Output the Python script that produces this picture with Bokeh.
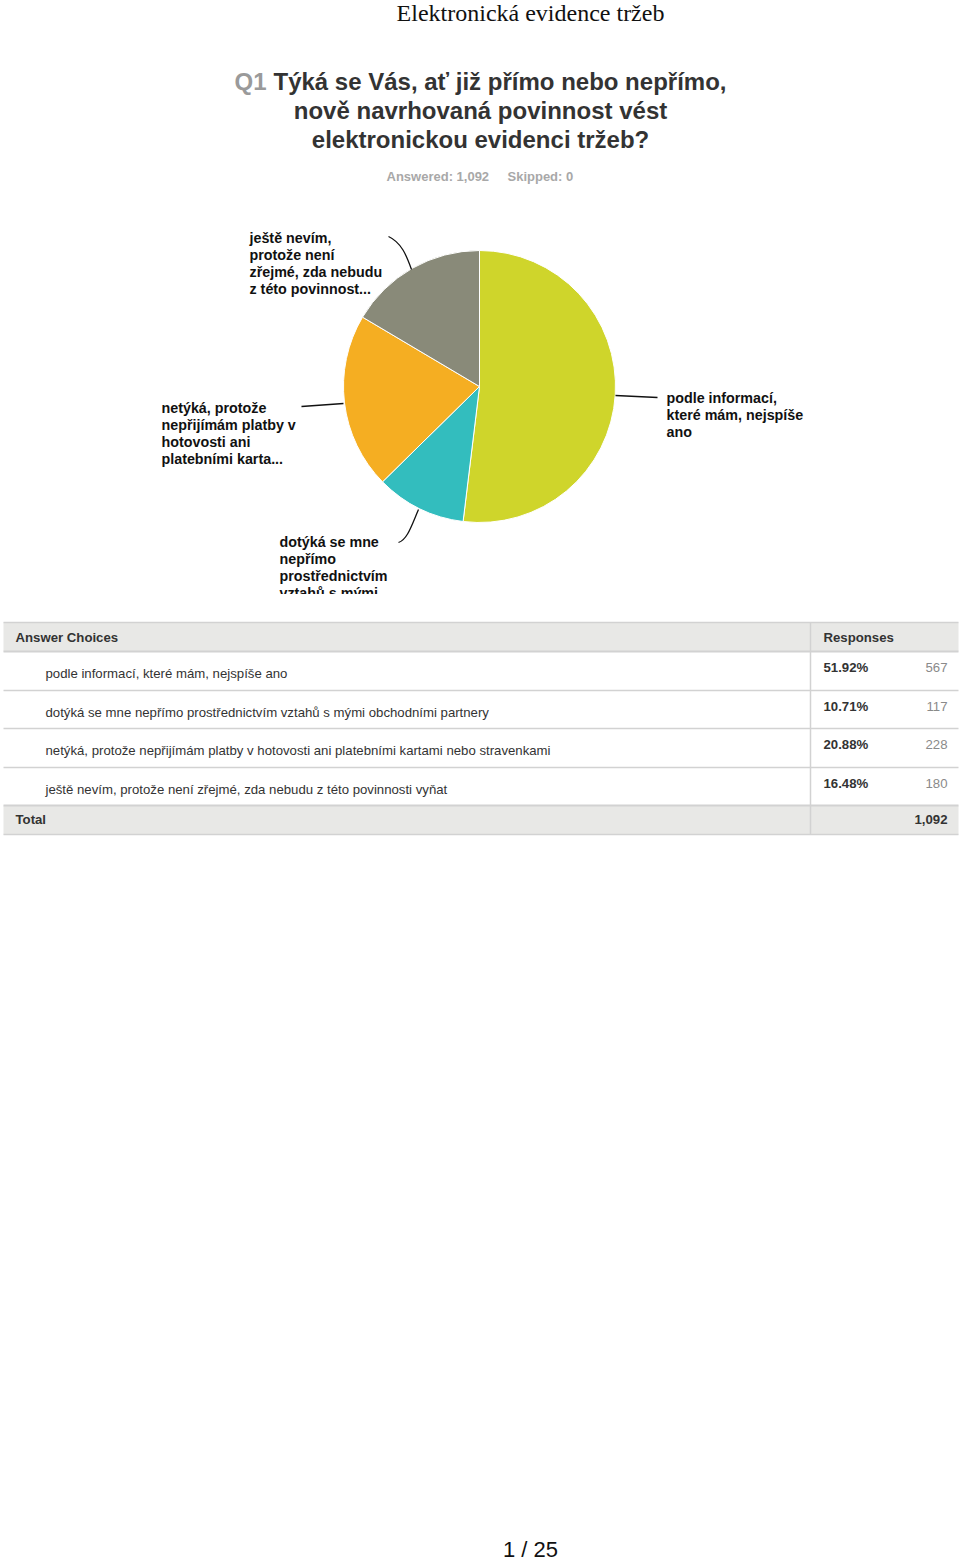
import math
from bokeh.plotting import figure
from bokeh.layouts import column
from bokeh.models import ColumnDataSource, Range1d
from bokeh.core.properties import value
from bokeh.embed import file_html
from bokeh.resources import INLINE

# ---------------- data ----------------
page_title = "Elektronická evidence tržeb"
q_number = "Q1"
q_lines = ["Týká se Vás, ať již přímo nebo nepřímo,",
           "nově navrhovaná povinnost vést",
           "elektronickou evidenci tržeb?"]
answered = "Answered: 1,092"
skipped = "Skipped: 0"

choices = ["podle informací, které mám, nejspíše ano",
           "dotýká se mne nepřímo prostřednictvím vztahů s mými obchodními partnery",
           "netýká, protože nepřijímám platby v hotovosti ani platebními kartami nebo stravenkami",
           "ještě nevím, protože není zřejmé, zda nebudu z této povinnosti vyňat"]
percents = [51.92, 10.71, 20.88, 16.48]
counts = [567, 117, 228, 180]
total = "1,092"
pie_labels = [["podle informací,", "které mám, nejspíše", "ano"],
              ["dotýká se mne", "nepřímo", "prostřednictvím", "vztahů s mými"],
              ["netýká, protože", "nepřijímám platby v", "hotovosti ani", "platebními karta..."],
              ["ještě nevím,", "protože není", "zřejmé, zda nebudu", "z této povinnost..."]]
colors = ["#CFD52B", "#33BDBE", "#F5AE22", "#898A79"]
page_no = "1 / 25"

FONT = value("Liberation Sans")
W = 960
H_TOP = 594
H_ALL = 1562


def mkfig(h):
    p = figure(width=W, height=h, x_range=Range1d(0, W), y_range=Range1d(0, h),
               output_backend="svg", toolbar_location=None, min_border=0)
    p.axis.visible = False
    p.grid.visible = False
    p.outline_line_color = None
    p.background_fill_color = "white"
    p.border_fill_color = "white"
    return p


top = mkfig(H_TOP)
ty = lambda sy: H_TOP - sy

# page header
top.text(x=[530], y=[ty(12)], text=[page_title], text_font=value("Liberation Serif"),
         text_font_size="24px", text_align="center", text_baseline="middle", text_color="#111111")

# question
QF = "24px"
top.text(x=[234], y=[ty(81)], text=[q_number], text_font=FONT, text_font_size=QF,
         text_font_style="bold", text_align="left", text_baseline="middle", text_color="#9a9a9a")
top.text(x=[273], y=[ty(81)], text=[q_lines[0]], text_font=FONT, text_font_size=QF,
         text_font_style="bold", text_align="left", text_baseline="middle", text_color="#333333")
top.text(x=[480, 480], y=[ty(110), ty(139)], text=q_lines[1:], text_font=FONT,
         text_font_size=QF, text_font_style="bold", text_align="center",
         text_baseline="middle", text_color="#333333")
top.text(x=[386], y=[ty(176)], text=[answered], text_font=FONT, text_font_size="13px",
         text_font_style="bold", text_align="left", text_baseline="middle", text_color="#a8a8a8")
top.text(x=[507], y=[ty(176)], text=[skipped], text_font=FONT, text_font_size="13px",
         text_font_style="bold", text_align="left", text_baseline="middle", text_color="#a8a8a8")

# pie
cx, cy, r = 479, ty(386), 136
tot = sum(percents)
starts, ends = [], []
acc = 0.0
for v in percents:
    starts.append(math.pi / 2 - 2 * math.pi * acc / tot)
    acc += v
    ends.append(math.pi / 2 - 2 * math.pi * acc / tot)
src = ColumnDataSource(dict(start=starts, end=ends, color=colors))
top.wedge(x=cx, y=cy, radius=r, start_angle="start", end_angle="end", direction="clock",
          fill_color="color", line_color="white", line_width=1, source=src)

# leader lines
top.line(x=[615, 657], y=[ty(395), ty(397)], line_color="#111111", line_width=1.3)
top.line(x=[301, 343], y=[ty(406), ty(403)], line_color="#111111", line_width=1.3)
top.bezier(x0=[388], y0=[ty(236)], x1=[411], y1=[ty(269)], cx0=[401], cy0=[ty(242)],
           cx1=[406], cy1=[ty(255)], line_color="#111111", line_width=1.3)
top.bezier(x0=[398], y0=[ty(542)], x1=[418], y1=[ty(509)], cx0=[407], cy0=[ty(539)],
           cx1=[411], cy1=[ty(525)], line_color="#111111", line_width=1.3)

# pie labels
label_pos = [(666, 397), (279, 541), (161, 407), (249, 237)]
for (lx, ly), lines in zip(label_pos, pie_labels):
    top.text(x=[lx] * len(lines), y=[ty(ly + 17 * i) for i in range(len(lines))], text=lines,
             text_font=FONT, text_font_size="14.3px", text_font_style="bold",
             text_align="left", text_baseline="middle", text_color="#111111")

# ---------------- table ----------------
bot = mkfig(H_ALL - H_TOP)
by = lambda sy: H_ALL - sy

row_tops = [651, 690, 728, 767]
TF = "13.2px"
# header / total backgrounds
bot.quad(left=[3, 3], right=[958, 958], top=[by(622), by(805)], bottom=[by(651), by(834)],
         fill_color="#e8e8e6", line_color=None)
# horizontal lines
for yy, w in [(622, 1.5), (651, 2), (690, 1.5), (728, 1.5), (767, 1.5), (805, 2), (834, 1.5)]:
    bot.line(x=[3, 958], y=[by(yy), by(yy)], line_color="#d2d2d2", line_width=w)
bot.line(x=[810, 810], y=[by(622), by(834)], line_color="#d2d2d2", line_width=1.5)

bot.text(x=[15], y=[by(637)], text=["Answer Choices"], text_font=FONT, text_font_size=TF,
         text_font_style="bold", text_baseline="middle", text_color="#333333")
bot.text(x=[823], y=[by(637)], text=["Responses"], text_font=FONT, text_font_size=TF,
         text_font_style="bold", text_baseline="middle", text_color="#333333")

tsrc = ColumnDataSource(dict(
    choice=choices,
    pct=[f"{p:.2f}%" for p in percents],
    cnt=[str(c) for c in counts],
    ytxt=[by(t + 22) for t in row_tops],
    ypct=[by(t + 16) for t in row_tops],
))
bot.text(x=45, y="ytxt", text="choice", source=tsrc, text_font=FONT, text_font_size=TF,
         text_baseline="middle", text_color="#333333")
bot.text(x=823, y="ypct", text="pct", source=tsrc, text_font=FONT, text_font_size=TF,
         text_font_style="bold", text_baseline="middle", text_color="#333333")
bot.text(x=947, y="ypct", text="cnt", source=tsrc, text_font=FONT, text_font_size=TF,
         text_align="right", text_baseline="middle", text_color="#8a8a8a")

bot.text(x=[15], y=[by(819)], text=["Total"], text_font=FONT, text_font_size=TF,
         text_font_style="bold", text_baseline="middle", text_color="#333333")
bot.text(x=[947], y=[by(819)], text=[total], text_font=FONT, text_font_size=TF,
         text_font_style="bold", text_align="right", text_baseline="middle", text_color="#333333")

bot.text(x=[530], y=[by(1549)], text=[page_no], text_font=FONT, text_font_size="22px",
         text_align="center", text_baseline="middle", text_color="#111111")

layout = column(top, bot, spacing=0)
open("out.html", "w").write(file_html(layout, INLINE))
